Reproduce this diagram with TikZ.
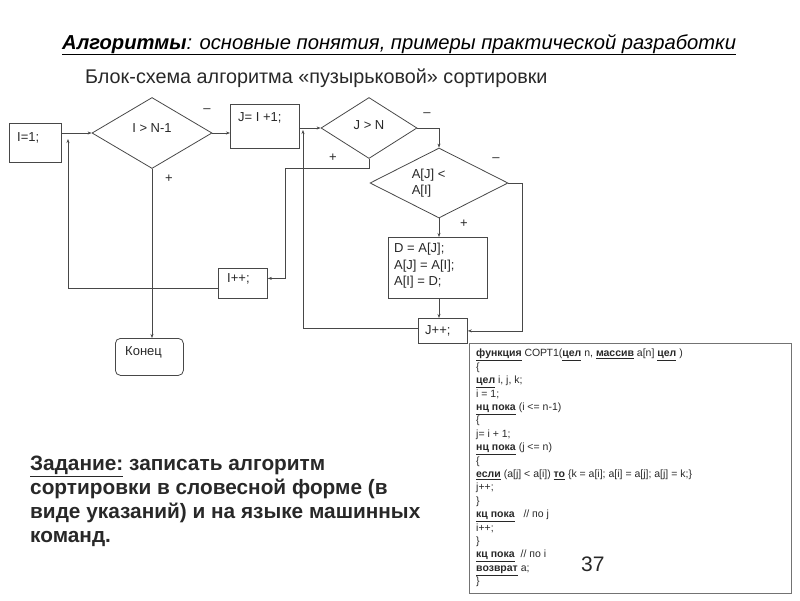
\documentclass[tikz,border=0pt]{standalone}
\usepackage{fontspec}
\setmainfont{Liberation Sans}
\usepackage{tikz}
\usetikzlibrary{positioning, arrows.meta, shapes.geometric, calc}
\definecolor{LineGray}{RGB}{72,72,72}
\definecolor{TextDark}{RGB}{40,40,40}
\tikzset{
  blk/.style={draw=LineGray, line width=0.8pt, anchor=north west, inner sep=0pt},
  dec/.style={draw=LineGray, line width=0.8pt, diamond, inner sep=0pt},
  lbl/.style={anchor=north west, inner sep=0pt, align=left, font=\fontsize{13}{16.5}\selectfont, text=TextDark},
  sgn/.style={inner sep=0pt, font=\fontsize{13}{15}\selectfont, text=TextDark},
  flow/.style={draw=LineGray, line width=0.8pt, -{Stealth[length=4pt,width=3pt]}},
  wire/.style={draw=LineGray, line width=0.8pt},
}
\newcommand{\kw}[1]{\underline{\textbf{#1}}}

\begin{document}
\begin{tikzpicture}[x=1pt, y=-1pt]
  \useasboundingbox (0,0) rectangle (800,600);

  % headings
  \node[anchor=base west, inner sep=0pt, font=\fontsize{20.2}{22}\selectfont\itshape] (title) at (62,49)
    {\underline{\textbf{Алгоритмы}: основные понятия, примеры практической разработки}};
  \node[anchor=base west, inner sep=0pt, font=\fontsize{19.8}{22}\selectfont, text=TextDark] (subtitle) at (85,83)
    {Блок-схема алгоритма «пузырьковой» сортировки};

  % outer loop
  \node[blk, minimum width=52pt, minimum height=39pt,
    label={[lbl, xshift=8pt, yshift=-9pt]north west:I=1;}] (init) at (9,123) {};
  \node[dec, minimum width=120pt, minimum height=71pt,
    label={[sgn, yshift=5pt]center:I > N-1}] (cmpi) at (152,133) {};
  \node[blk, minimum width=69pt, minimum height=44pt,
    label={[lbl, xshift=8pt, yshift=-8pt]north west:J= I +1;}] (setj) at (230,104) {};
  \node[blk, minimum width=49pt, minimum height=30pt,
    label={[lbl, xshift=9pt, yshift=-5pt]north west:I++;}] (inci) at (218,268) {};
  \node[blk, rounded corners=5pt, minimum width=68pt, minimum height=37pt,
    label={[lbl, xshift=10pt, yshift=-8pt]north west:Конец}] (finish) at (115,338) {};

  % inner loop
  \node[dec, minimum width=96pt, minimum height=61pt,
    label={[sgn, yshift=3pt]center:J > N}] (cmpj) at (369,128) {};
  \node[dec, minimum width=138pt, minimum height=70pt,
    label={[lbl, anchor=west, xshift=42pt]west:A[J] <\\A[I]}] (cmpa) at (439,183) {};
  \node[blk, minimum width=99pt, minimum height=61pt,
    label={[lbl, xshift=6pt, yshift=-6pt]north west:D = A[J];\\A[J] = A[I];\\A[I] = D;}] (swap) at (388,237) {};
  \node[blk, minimum width=49pt, minimum height=25pt,
    label={[lbl, xshift=7pt, yshift=-7pt]north west:J++;}] (incj) at (418,318) {};

  \coordinate (jointi) at (68,133);
  \coordinate (jointj) at (303,128);
  \coordinate (toinci) at (285,168);
  \coordinate (tojpp) at (522,183);

  \draw[flow] (init.east |- cmpi.west) -- (cmpi.west);
  \draw[flow] (cmpi.east) -- (setj.west |- cmpi.east);
  \draw[flow] (cmpi.south) -- (cmpi.south |- finish.north);
  \draw[flow] (setj.east |- cmpj.west) -- (cmpj.west);
  \draw[flow] (cmpj.east) -| (cmpa.north);
  \draw[flow] (cmpj.south) |- (toinci) |- ([yshift=5pt]inci.east);
  \draw[flow] ([yshift=-5pt]inci.west) -| ([yshift=-6pt]jointi);
  \draw[flow] (cmpa.south) -- (swap.north -| cmpa.south);
  \draw[flow] (swap.south -| cmpa.south) -- (incj.north -| cmpa.south);
  \draw[flow] (cmpa.east) -- (tojpp) |- (incj.east);
  \draw[flow] ([yshift=3pt]incj.west) -| ([yshift=-2pt]jointj);

  \node[sgn] (minusi) at (207,111) {--};
  \node[sgn] (plusi) at (169,179) {+};
  \node[sgn] (minusj) at (427,115) {--};
  \node[sgn] (plusj) at (333,158) {+};
  \node[sgn] (minusa) at (496,160) {--};
  \node[sgn] (plusa) at (464,224) {+};

  % task and program
  \node[anchor=north west, inner sep=0pt, align=left, font=\fontsize{20.8}{24}\selectfont\bfseries, text=TextDark] (task) at (30,456)
    {\underline{Задание:} записать алгоритм\\сортировки в словесной форме (в\\виде указаний) и на языке машинных\\команд.};
  \node[blk, draw=black!55, line width=1.4pt, minimum width=322pt, minimum height=250pt,
    label={[anchor=north west, inner sep=0pt, align=left, xshift=7pt, yshift=-6pt,
      font=\fontsize{10.5}{13.4}\selectfont, text=TextDark]north west:%
      \kw{функция} СОРТ1(\kw{цел} n, \kw{массив} a[n] \kw{цел} )\\
      \{\\
      \kw{цел} i, j, k;\\
      i = 1;\\
      \kw{нц пока} (i <= n-1)\\
      \{\\
      j= i + 1;\\
      \kw{нц пока} (j <= n)\\
      \{\\
      \kw{если} (a[j] < a[i]) \kw{то} \{k = a[i]; a[i] = a[j]; a[j] = k;\}\\
      j++;\\
      \}\\
      \kw{кц пока}~~ // по j\\
      i++;\\
      \}\\
      \kw{кц пока}~ // по i\\
      \kw{возврат} a;\\
      \}}] (code) at (469,343) {};
  \node[anchor=base west, inner sep=0pt, font=\fontsize{21}{24}\selectfont, text=TextDark] (page) at (581,571) {37};
\end{tikzpicture}
\end{document}
